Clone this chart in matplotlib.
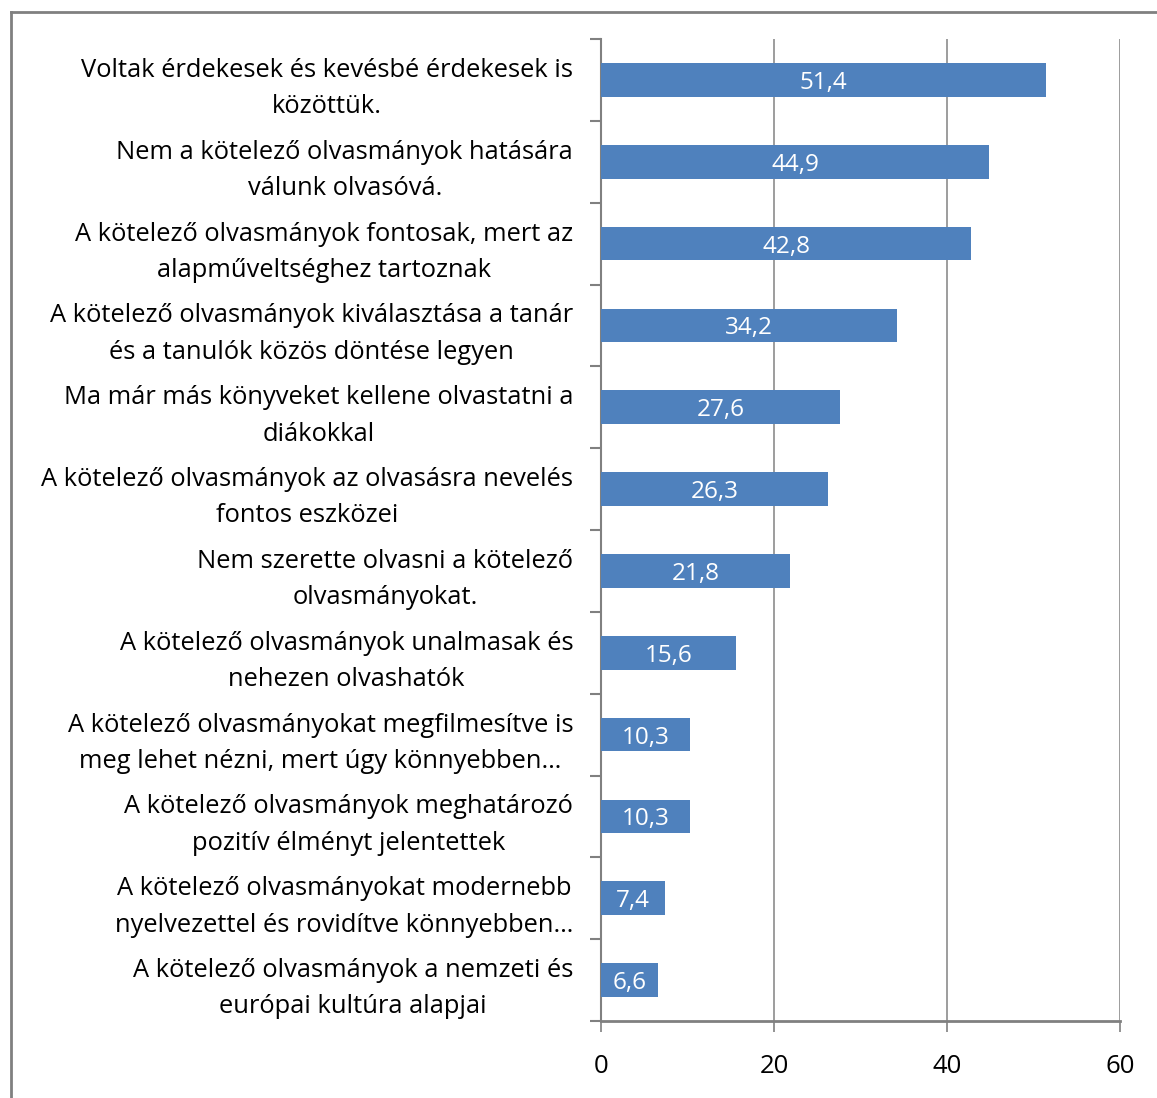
import matplotlib
matplotlib.use("Agg")
import matplotlib.pyplot as plt
from matplotlib.lines import Line2D

categories = [
    "Voltak érdekesek és kevésbé érdekesek is\nközöttük.",
    "Nem a kötelező olvasmányok hatására\nválunk olvasóvá.",
    "A kötelező olvasmányok fontosak, mert az\nalapműveltséghez tartoznak",
    "A kötelező olvasmányok kiválasztása a tanár\nés a tanulók közös döntése legyen",
    "Ma már más könyveket kellene olvastatni a\ndiákokkal",
    "A kötelező olvasmányok az olvasásra nevelés\nfontos eszközei",
    "Nem szerette olvasni a kötelező\nolvasmányokat.",
    "A kötelező olvasmányok unalmasak és\nnehezen olvashatók",
    "A kötelező olvasmányokat megfilmesítve is\nmeg lehet nézni, mert úgy könnyebben…",
    "A kötelező olvasmányok meghatározó\npozitív élményt jelentettek",
    "A kötelező olvasmányokat modernebb\nnyelvezettel és rovidítve könnyebben…",
    "A kötelező olvasmányok a nemzeti és\neurópai kultúra alapjai",
]
values = [51.4, 44.9, 42.8, 34.2, 27.6, 26.3, 21.8, 15.6, 10.3, 10.3, 7.4, 6.6]
x_ticks = [0, 20, 40, 60]

plt.rcParams['font.family'] = ['Open Sans', 'DejaVu Sans']

fig = plt.figure(figsize=(11.57, 10.98), dpi=100)
ax = fig.add_axes([601 / 1157, 1 - 1021 / 1098, 519 / 1157, 982 / 1098])

ypos = list(range(len(categories)))
bars = ax.barh(ypos, values, height=0.41, color='#4F81BD', zorder=3)
for b, v in zip(bars, values):
    ax.text(b.get_width() / 2, b.get_y() + b.get_height() / 2, f"{v:.1f}".replace('.', ','),
            ha='center', va='center_baseline', color='white', fontsize=17.5, zorder=4)

ax.set_ylim(len(categories) - 0.5, -0.5)
ax.set_xlim(0, 60)
ax.set_xticks(x_ticks)
ax.set_yticks(ypos)
ax.set_yticklabels(categories, multialignment='center', fontsize=18.4, linespacing=1.6)
ax.set_yticks([y - 0.5 for y in range(len(categories) + 1)], minor=True)
ax.tick_params(axis='y', which='major', length=0, pad=20)
ax.tick_params(axis='y', which='minor', length=8, width=1.5, color='#808080', direction='out')
ax.tick_params(axis='x', length=8, width=1.2, color='#808080', pad=16, labelsize=18.5)

ax.grid(axis='x', color='#8c8c8c', linewidth=1.2, zorder=0)
for s in ['top', 'right']:
    ax.spines[s].set_visible(False)
ax.spines['left'].set_color('#808080')
ax.spines['left'].set_linewidth(1.5)
ax.spines['bottom'].set_color('#808080')
ax.spines['bottom'].set_linewidth(2)

# outer chart frame (only left and top visible in the crop)
fx = 10.5 / 1157
fy = 1 - 12 / 1098
fig.add_artist(Line2D([fx, fx], [0, fy], transform=fig.transFigure, color='#808080', lw=2))
fig.add_artist(Line2D([fx, 1], [fy, fy], transform=fig.transFigure, color='#808080', lw=2))

fig.savefig('out.png', dpi=100)
